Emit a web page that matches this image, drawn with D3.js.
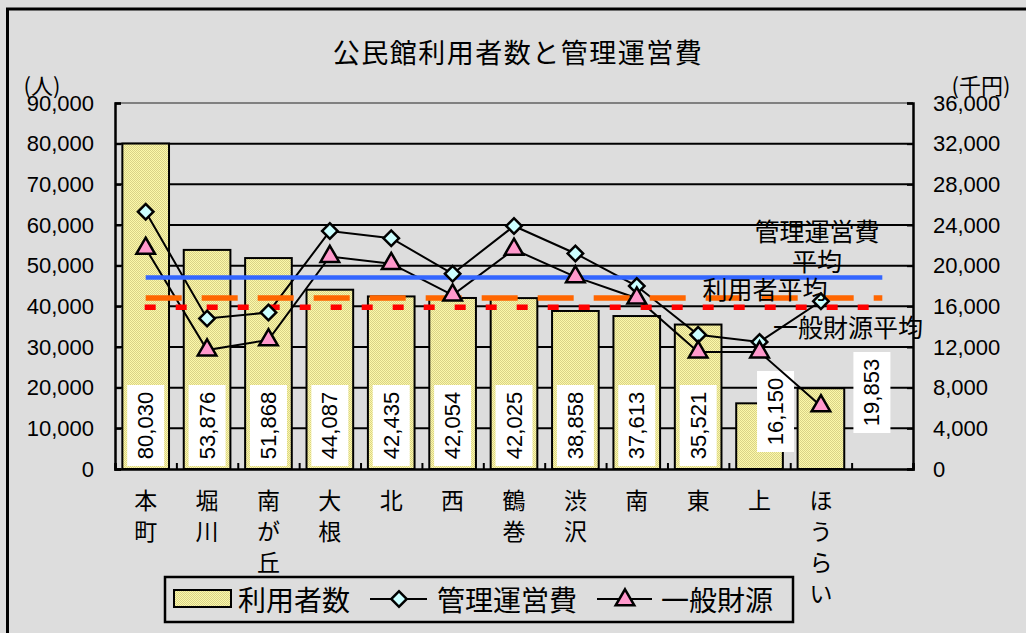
<!DOCTYPE html>
<html>
<head>
<meta charset="utf-8">
<script src="https://cdn.jsdelivr.net/npm/d3@7"></script>
<style>
  body { margin: 0; background: #dddddd; }
  svg { display: block; }
</style>
</head>
<body>
<svg id="chart" width="1026" height="633"></svg>
<script>
// 公民館ごとの利用者数（人）と管理運営費・一般財源（千円）
const categories = ["本町", "堀川", "南が丘", "大根", "北", "西", "鶴巻", "渋沢", "南", "東", "上", "ほうらい"];
const users = [80030, 53876, 51868, 44087, 42435, 42054, 42025, 38858, 37613, 35521, 16150, 19853];
const mgmtCost = [25300, 14800, 15400, 23400, 22700, 19200, 23900, 21200, 18000, 13200, 12500, 16500];
const generalFund = [21700, 11700, 12700, 20900, 20200, 17100, 21600, 18900, 16800, 11500, 11500, 6200];

const leftTicks = [0, 10000, 20000, 30000, 40000, 50000, 60000, 70000, 80000, 90000];
const rightTicks = [0, 4000, 8000, 12000, 16000, 20000, 24000, 28000, 32000, 36000];

const titleText = "公民館利用者数と管理運営費";
const leftUnit = "(人)";
const rightUnit = "(千円)";
const legendLabels = ["利用者数", "管理運営費", "一般財源"];
const avgLabelMgmt = ["管理運営費", "平均"];
const avgLabelUsers = "利用者平均";
const avgLabelFund = "一般財源平均";

// ---- layout ----
const W = 1026, H = 633;
const plot = { left: 115, right: 913, top: 103, bottom: 469 };
const slotCount = categories.length + 1;   // one empty slot at the right end
const CJK = "'Noto Sans CJK JP', 'Noto Sans', sans-serif";
const NUM = "'Liberation Sans', Arial, sans-serif";
// value-label boxes that sit beside their bars instead of inside
const labelNudge = { 10: [16, -14], 11: [51, -33] };

const svg = d3.select("#chart");

// bar texture
const defs = svg.append("defs");
const pat = defs.append("pattern").attr("id", "dots")
  .attr("patternUnits", "userSpaceOnUse").attr("width", 2).attr("height", 2);
pat.append("rect").attr("width", 2).attr("height", 2).attr("fill", "#fcf9aa");
pat.append("rect").attr("x", 0).attr("y", 0).attr("width", 1).attr("height", 1).attr("fill", "#d9d288");
pat.append("rect").attr("x", 1).attr("y", 1).attr("width", 1).attr("height", 1).attr("fill", "#d9d288");

svg.append("rect").attr("width", W).attr("height", H).attr("fill", "#dddddd");
svg.append("rect").attr("x", 7.5).attr("y", 9).attr("width", W + 20).attr("height", H + 20)
  .attr("fill", "none").attr("stroke", "#000").attr("stroke-width", 3);

// ---- scales ----
const x = d3.scaleBand().domain(d3.range(slotCount))
  .range([plot.left, plot.right]).paddingInner(0.24).paddingOuter(0.12);
const edge = d3.scaleLinear().domain([0, slotCount]).range([plot.left, plot.right]);
const cx = i => x(i) + x.bandwidth() / 2;
const yL = d3.scaleLinear().domain([0, 90000]).range([plot.bottom, plot.top]);
const yR = d3.scaleLinear().domain([0, 36000]).range([plot.bottom, plot.top]);

// ---- title ----
svg.append("text").attr("x", 518).attr("y", 63).attr("text-anchor", "middle")
  .attr("font-family", CJK).attr("font-size", 27).attr("letter-spacing", 1.5)
  .attr("fill", "#000").text(titleText);

// ---- gridlines ----
svg.append("g").selectAll("line").data(leftTicks.filter(d => d > 0)).join("line")
  .attr("x1", plot.left).attr("x2", plot.right)
  .attr("y1", d => yL(d)).attr("y2", d => yL(d))
  .attr("stroke", d => d === 90000 ? "#808080" : "#000").attr("stroke-width", 2);

// ---- bars ----
svg.append("g").selectAll("rect").data(users).join("rect")
  .attr("x", (d, i) => x(i)).attr("width", x.bandwidth())
  .attr("y", d => yL(d)).attr("height", d => yL(0) - yL(d))
  .attr("fill", "url(#dots)").attr("stroke", "#000").attr("stroke-width", 2);

// ---- value labels on bars ----
const boxW = 37, boxH = 81;
const lab = svg.append("g").selectAll("g").data(users).join("g")
  .attr("transform", (d, i) => {
    const n = labelNudge[i] || [0, 0];
    return `translate(${cx(i) + n[0]},${plot.bottom - 3 - boxH / 2 + n[1]})`;
  });
lab.append("rect").attr("x", -boxW / 2).attr("y", -boxH / 2)
  .attr("width", boxW).attr("height", boxH).attr("fill", "#fff");
lab.append("text").attr("transform", "rotate(-90)")
  .attr("text-anchor", "middle").attr("dominant-baseline", "central")
  .attr("font-family", NUM).attr("font-size", 22).attr("fill", "#000")
  .text(d => d3.format(",")(d));

// ---- series lines ----
const lineR = d3.line().x((d, i) => cx(i)).y(d => yR(d));
[mgmtCost, generalFund].forEach(s => {
  svg.append("path").datum(s).attr("d", lineR)
    .attr("fill", "none").attr("stroke", "#000").attr("stroke-width", 2);
});

// ---- average lines ----
const avgUsers = d3.mean(users);
const avgMgmt = d3.mean(mgmtCost);
const avgFund = d3.mean(generalFund);
const ax1 = cx(0), ax2 = cx(slotCount - 1);
svg.append("line").attr("x1", ax1).attr("x2", ax2)
  .attr("y1", yR(avgMgmt)).attr("y2", yR(avgMgmt))
  .attr("stroke", "#3366ff").attr("stroke-width", 4.5);
svg.append("line").attr("x1", ax1).attr("x2", ax2)
  .attr("y1", yL(avgUsers)).attr("y2", yL(avgUsers))
  .attr("stroke", "#ff6600").attr("stroke-width", 5.5).attr("stroke-dasharray", "36 20");
svg.append("line").attr("x1", ax1 - 1).attr("x2", ax2)
  .attr("y1", yR(avgFund)).attr("y2", yR(avgFund))
  .attr("stroke", "#ff0000").attr("stroke-width", 5.5).attr("stroke-dasharray", "11 20");

// ---- markers ----
const diamond = d3.symbol().type(d3.symbolSquare).size(120);
const triangle = d3.symbol().type(d3.symbolTriangle).size(150);
svg.append("g").selectAll("path").data(mgmtCost).join("path")
  .attr("d", diamond())
  .attr("transform", (d, i) => `translate(${cx(i)},${yR(d)}) rotate(45)`)
  .attr("fill", "#ccffff").attr("stroke", "#000").attr("stroke-width", 2.5);
svg.append("g").selectAll("path").data(generalFund).join("path")
  .attr("d", triangle())
  .attr("transform", (d, i) => `translate(${cx(i)},${yR(d)})`)
  .attr("fill", "#ff99cc").attr("stroke", "#000").attr("stroke-width", 2.5);

// ---- average labels ----
const avgText = (t, xx, yy) => svg.append("text").attr("x", xx).attr("y", yy)
  .attr("text-anchor", "middle").attr("dominant-baseline", "central")
  .attr("font-family", CJK).attr("font-size", 25).attr("fill", "#000").text(t);
avgText(avgLabelMgmt[0], 817, yR(avgMgmt) - 47);
avgText(avgLabelMgmt[1], 817, yR(avgMgmt) - 17);
avgText(avgLabelUsers, 765, yL(avgUsers) - 10);
avgText(avgLabelFund, 848, yR(avgFund) + 19);

// ---- axes ----
const fmt = d3.format(",");
const gL = svg.append("g").attr("transform", `translate(${plot.left},0)`)
  .call(d3.axisLeft(yL).tickValues(leftTicks).tickFormat(fmt).tickSize(-6).tickPadding(21));
const gR = svg.append("g").attr("transform", `translate(${plot.right},0)`)
  .call(d3.axisRight(yR).tickValues(rightTicks).tickFormat(fmt).tickSize(-6).tickPadding(20));
const gX = svg.append("g").attr("transform", `translate(0,${plot.bottom})`)
  .call(d3.axisBottom(edge).tickValues(d3.range(slotCount + 1)).tickFormat("").tickSize(-6));
[gL, gR, gX].forEach(g => {
  g.select(".domain").attr("stroke", "#000").attr("stroke-width", 2.5);
  g.selectAll(".tick line").attr("stroke", "#000").attr("stroke-width", 2);
  g.selectAll(".tick text").attr("font-family", NUM).attr("font-size", 22).attr("fill", "#000");
});

// unit captions
svg.append("text").attr("x", 42).attr("y", 84).attr("text-anchor", "middle")
  .attr("dominant-baseline", "central").attr("font-family", CJK).attr("font-size", 22)
  .text(leftUnit);
svg.append("text").attr("x", 981).attr("y", 84).attr("text-anchor", "middle")
  .attr("dominant-baseline", "central").attr("font-family", CJK).attr("font-size", 22)
  .text(rightUnit);

// ---- category labels, written vertically ----
const catG = svg.append("g").selectAll("text").data(categories).join("text")
  .attr("text-anchor", "middle").attr("font-family", CJK).attr("font-size", 23).attr("fill", "#000");
catG.selectAll("tspan").data((d, i) => Array.from(d).map(c => ({ c, i }))).join("tspan")
  .attr("x", d => cx(d.i)).attr("y", (d, j) => 509 + j * 31).text(d => d.c);

// ---- legend ----
const lg = svg.append("g");
lg.append("rect").attr("x", 165).attr("y", 577).attr("width", 628).attr("height", 45)
  .attr("fill", "#dddddd").attr("stroke", "#000").attr("stroke-width", 2.5);
const ly = 599;
lg.append("rect").attr("x", 174).attr("y", ly - 9).attr("width", 57).attr("height", 17)
  .attr("fill", "url(#dots)").attr("stroke", "#000").attr("stroke-width", 2);
const legText = (t, xx) => lg.append("text").attr("x", xx).attr("y", ly)
  .attr("dominant-baseline", "central").attr("font-family", CJK).attr("font-size", 28)
  .attr("fill", "#000").text(t);
legText(legendLabels[0], 238);
lg.append("line").attr("x1", 370).attr("x2", 427).attr("y1", ly).attr("y2", ly)
  .attr("stroke", "#000").attr("stroke-width", 2);
lg.append("path").attr("d", diamond()).attr("transform", `translate(399,${ly}) rotate(45)`)
  .attr("fill", "#ccffff").attr("stroke", "#000").attr("stroke-width", 2.5);
legText(legendLabels[1], 437);
lg.append("line").attr("x1", 597).attr("x2", 652).attr("y1", ly).attr("y2", ly)
  .attr("stroke", "#000").attr("stroke-width", 2);
lg.append("path").attr("d", triangle()).attr("transform", `translate(625,${ly + 1})`)
  .attr("fill", "#ff99cc").attr("stroke", "#000").attr("stroke-width", 2.5);
legText(legendLabels[2], 661);
</script>
</body>
</html>
